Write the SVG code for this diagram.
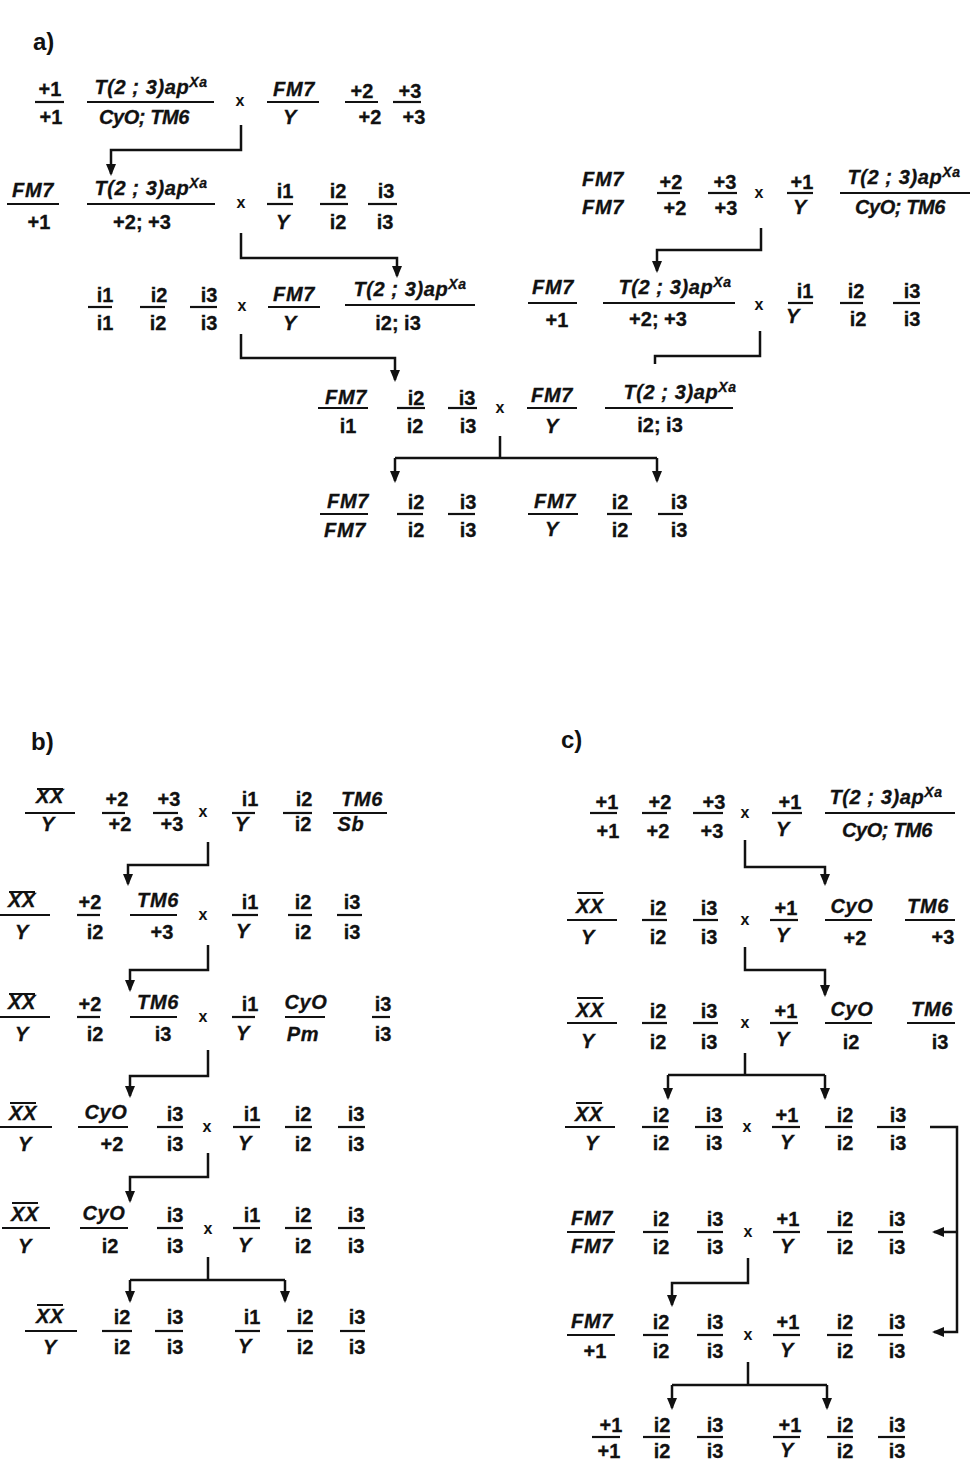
<svg xmlns="http://www.w3.org/2000/svg" width="976" height="1462" viewBox="0 0 976 1462">
<defs>
<style>
.t{font-family:"Liberation Sans",Arial,Helvetica,sans-serif;font-weight:700;font-size:20px;fill:#111;stroke:#111;stroke-width:0.3px;text-anchor:middle}
.i{font-style:italic;letter-spacing:0.6px}
.nar{letter-spacing:-0.4px}
.xs{font-family:"Liberation Sans",Arial,sans-serif;font-weight:700;font-size:16px;fill:#111;text-anchor:middle}
.lb{font-family:"Liberation Sans",Arial,sans-serif;font-weight:700;font-size:24px;fill:#111}
.fl{stroke:#111;stroke-width:2.2}
.ov{stroke:#111;stroke-width:2}
.cn{fill:none;stroke:#111;stroke-width:2.5}
.ar{marker-end:url(#ah)}
.sup{font-size:14px}
</style>
<marker id="ah" viewBox="0 0 12 10" refX="10" refY="5" markerWidth="12" markerHeight="10" markerUnits="userSpaceOnUse" orient="auto">
<path d="M0,0 L12,5 L0,10 z" fill="#111"/>
</marker>
</defs>
<rect width="976" height="1462" fill="#fff"/>

<!-- panel labels -->
<text class="lb" x="33" y="50">a)</text>
<text class="lb" x="31" y="750">b)</text>
<text class="lb" x="561" y="748">c)</text>

<!-- ===== panel a ===== -->
<g id="a-row1" transform="translate(0,102)">
<line class="fl" x1="35" y1="0" x2="64" y2="0"/><text class="t" x="50" y="-6">+1</text><text class="t" x="51" y="22">+1</text>
<line class="fl" x1="87" y1="0" x2="214" y2="0"/><text class="t i" x="151" y="-8">T(2 ; 3)ap<tspan class="sup" dy="-7">Xa</tspan></text><text class="t i nar" x="144" y="22">CyO; TM6</text>
<text class="xs" x="240" y="4">x</text>
<line class="fl" x1="267" y1="0" x2="319" y2="0"/><text class="t i" x="294" y="-6">FM7</text><text class="t i" x="290" y="22">Y</text>
<line class="fl" x1="345" y1="0" x2="378" y2="0"/><text class="t" x="362" y="-4">+2</text><text class="t" x="370" y="22">+2</text>
<line class="fl" x1="393" y1="0" x2="421" y2="0"/><text class="t" x="410" y="-4">+3</text><text class="t" x="414" y="22">+3</text>
</g>

<g id="a-row2-left" transform="translate(0,204)">
<line class="fl" x1="7" y1="0" x2="59" y2="0"/><text class="t i" x="33" y="-7">FM7</text><text class="t" x="39" y="25">+1</text>
<line class="fl" x1="87" y1="0" x2="215" y2="0"/><text class="t i" x="151" y="-9">T(2 ; 3)ap<tspan class="sup" dy="-7">Xa</tspan></text><text class="t" x="142" y="25">+2; +3</text>
<text class="xs" x="241" y="4">x</text>
<line class="fl" x1="267" y1="0" x2="293" y2="0"/><text class="t" x="285" y="-6">i1</text><text class="t i" x="283" y="25">Y</text>
<line class="fl" x1="320" y1="0" x2="348" y2="0"/><text class="t" x="338" y="-6">i2</text><text class="t" x="338" y="25">i2</text>
<line class="fl" x1="368" y1="0" x2="397" y2="0"/><text class="t" x="386" y="-6">i3</text><text class="t" x="385" y="25">i3</text>
</g>

<g id="a-row2-right" transform="translate(0,193)">
<text class="t i" x="603" y="-7">FM7</text><text class="t i" x="603" y="21">FM7</text>
<line class="fl" x1="657" y1="0" x2="680" y2="0"/><text class="t" x="671" y="-4">+2</text><text class="t" x="675" y="22">+2</text>
<line class="fl" x1="708" y1="0" x2="737" y2="0"/><text class="t" x="725" y="-4">+3</text><text class="t" x="726" y="22">+3</text>
<text class="xs" x="759" y="5">x</text>
<line class="fl" x1="787" y1="0" x2="813" y2="0"/><text class="t" x="802" y="-4">+1</text><text class="t i" x="800" y="21">Y</text>
<line class="fl" x1="840" y1="0" x2="970" y2="0"/><text class="t i" x="904" y="-9">T(2 ; 3)ap<tspan class="sup" dy="-7">Xa</tspan></text><text class="t i nar" x="900" y="21">CyO; TM6</text>
</g>

<g id="a-row3-left" transform="translate(0,307)">
<line class="fl" x1="88" y1="0" x2="112" y2="0"/><text class="t" x="105" y="-5">i1</text><text class="t" x="105" y="23">i1</text>
<line class="fl" x1="140" y1="0" x2="165" y2="0"/><text class="t" x="159" y="-5">i2</text><text class="t" x="158" y="23">i2</text>
<line class="fl" x1="190" y1="0" x2="217" y2="0"/><text class="t" x="209" y="-5">i3</text><text class="t" x="209" y="23">i3</text>
<text class="xs" x="242" y="4">x</text>
<line class="fl" x1="268" y1="0" x2="320" y2="0"/><text class="t i" x="294" y="-6">FM7</text><text class="t i" x="290" y="23">Y</text>
<line class="fl" x1="345" y1="-2" x2="475" y2="-2"/><text class="t i" x="410" y="-11">T(2 ; 3)ap<tspan class="sup" dy="-7">Xa</tspan></text><text class="t" x="398" y="23">i2; i3</text>
</g>

<g id="a-row3-right" transform="translate(0,303)">
<line class="fl" x1="528" y1="0" x2="577" y2="0"/><text class="t i" x="553" y="-9">FM7</text><text class="t" x="557" y="24">+1</text>
<line class="fl" x1="603" y1="0" x2="735" y2="0"/><text class="t i" x="675" y="-9">T(2 ; 3)ap<tspan class="sup" dy="-7">Xa</tspan></text><text class="t" x="658" y="23">+2; +3</text>
<text class="xs" x="759" y="7">x</text>
<line class="fl" x1="788" y1="0" x2="813" y2="0"/><text class="t" x="805" y="-5">i1</text><text class="t i" x="793" y="20">Y</text>
<line class="fl" x1="840" y1="0" x2="863" y2="0"/><text class="t" x="856" y="-5">i2</text><text class="t" x="858" y="23">i2</text>
<line class="fl" x1="893" y1="0" x2="920" y2="0"/><text class="t" x="912" y="-5">i3</text><text class="t" x="912" y="23">i3</text>
</g>

<g id="a-row4" transform="translate(0,408)">
<line class="fl" x1="318" y1="0" x2="368" y2="0"/><text class="t i" x="346" y="-4">FM7</text><text class="t" x="348" y="25">i1</text>
<line class="fl" x1="397" y1="0" x2="425" y2="0"/><text class="t" x="416" y="-3">i2</text><text class="t" x="415" y="25">i2</text>
<line class="fl" x1="448" y1="0" x2="477" y2="0"/><text class="t" x="467" y="-3">i3</text><text class="t" x="468" y="25">i3</text>
<text class="xs" x="500" y="5">x</text>
<line class="fl" x1="527" y1="0" x2="577" y2="0"/><text class="t i" x="552" y="-6">FM7</text><text class="t i" x="552" y="25">Y</text>
<line class="fl" x1="605" y1="0" x2="733" y2="0"/><text class="t i" x="680" y="-9">T(2 ; 3)ap<tspan class="sup" dy="-7">Xa</tspan></text><text class="t" x="660" y="24">i2; i3</text>
</g>

<g id="a-row5" transform="translate(0,514)">
<line class="fl" x1="320" y1="0" x2="368" y2="0"/><text class="t i" x="348" y="-6">FM7</text><text class="t i" x="345" y="23">FM7</text>
<line class="fl" x1="397" y1="0" x2="423" y2="0"/><text class="t" x="416" y="-5">i2</text><text class="t" x="416" y="23">i2</text>
<line class="fl" x1="448" y1="0" x2="475" y2="0"/><text class="t" x="468" y="-5">i3</text><text class="t" x="468" y="23">i3</text>
<line class="fl" x1="528" y1="0" x2="578" y2="0"/><text class="t i" x="555" y="-6">FM7</text><text class="t i" x="552" y="22">Y</text>
<line class="fl" x1="607" y1="0" x2="632" y2="0"/><text class="t" x="620" y="-5">i2</text><text class="t" x="620" y="23">i2</text>
<line class="fl" x1="658" y1="0" x2="683" y2="0"/><text class="t" x="679" y="-5">i3</text><text class="t" x="679" y="23">i3</text>
</g>

<!-- ===== panel b ===== -->
<g id="b-row1" transform="translate(0,813)">
<line class="ov" x1="37" y1="-24" x2="63" y2="-24"/><line class="fl" x1="25" y1="0" x2="75" y2="0"/><text class="t i" x="50" y="-10">XX</text><text class="t i" x="48" y="18">Y</text>
<line class="fl" x1="102" y1="0" x2="125" y2="0"/><text class="t" x="117" y="-7">+2</text><text class="t" x="120" y="18">+2</text>
<line class="fl" x1="153" y1="0" x2="178" y2="0"/><text class="t" x="169" y="-7">+3</text><text class="t" x="172" y="18">+3</text>
<text class="xs" x="203" y="4">x</text>
<line class="fl" x1="232" y1="0" x2="255" y2="0"/><text class="t" x="250" y="-7">i1</text><text class="t i" x="242" y="18">Y</text>
<line class="fl" x1="283" y1="0" x2="312" y2="0"/><text class="t" x="304" y="-7">i2</text><text class="t" x="303" y="18">i2</text>
<line class="fl" x1="333" y1="0" x2="387" y2="0"/><text class="t i" x="362" y="-7">TM6</text><text class="t i" x="351" y="18">Sb</text>
</g>

<g id="b-row2" transform="translate(0,915)">
<line class="ov" x1="9" y1="-23" x2="35" y2="-23"/><line class="fl" x1="0" y1="0" x2="50" y2="0"/><text class="t i" x="22" y="-8">XX</text><text class="t i" x="22" y="24">Y</text>
<line class="fl" x1="77" y1="0" x2="100" y2="0"/><text class="t" x="90" y="-6">+2</text><text class="t" x="95" y="24">i2</text>
<line class="fl" x1="130" y1="0" x2="177" y2="0"/><text class="t i" x="158" y="-8">TM6</text><text class="t" x="162" y="24">+3</text>
<text class="xs" x="203" y="5">x</text>
<line class="fl" x1="232" y1="0" x2="258" y2="0"/><text class="t" x="250" y="-6">i1</text><text class="t i" x="243" y="23">Y</text>
<line class="fl" x1="288" y1="0" x2="312" y2="0"/><text class="t" x="303" y="-6">i2</text><text class="t" x="303" y="24">i2</text>
<line class="fl" x1="337" y1="0" x2="362" y2="0"/><text class="t" x="352" y="-6">i3</text><text class="t" x="352" y="24">i3</text>
</g>

<g id="b-row3" transform="translate(0,1017)">
<line class="ov" x1="9" y1="-23" x2="35" y2="-23"/><line class="fl" x1="0" y1="0" x2="50" y2="0"/><text class="t i" x="22" y="-8">XX</text><text class="t i" x="22" y="24">Y</text>
<line class="fl" x1="77" y1="0" x2="100" y2="0"/><text class="t" x="90" y="-6">+2</text><text class="t" x="95" y="24">i2</text>
<line class="fl" x1="130" y1="0" x2="177" y2="0"/><text class="t i" x="158" y="-8">TM6</text><text class="t" x="163" y="24">i3</text>
<text class="xs" x="203" y="5">x</text>
<line class="fl" x1="232" y1="0" x2="255" y2="0"/><text class="t" x="250" y="-6">i1</text><text class="t i" x="243" y="23">Y</text>
<line class="fl" x1="285" y1="0" x2="325" y2="0"/><text class="t i" x="306" y="-8">CyO</text><text class="t i" x="303" y="24">Pm</text>
<line class="fl" x1="372" y1="0" x2="390" y2="0"/><text class="t" x="383" y="-6">i3</text><text class="t" x="383" y="24">i3</text>
</g>

<g id="b-row4" transform="translate(0,1127)">
<line class="ov" x1="10" y1="-24" x2="36" y2="-24"/><line class="fl" x1="0" y1="0" x2="52" y2="0"/><text class="t i" x="23" y="-7">XX</text><text class="t i" x="25" y="24">Y</text>
<line class="fl" x1="78" y1="0" x2="128" y2="0"/><text class="t i" x="106" y="-8">CyO</text><text class="t" x="112" y="24">+2</text>
<line class="fl" x1="157" y1="0" x2="183" y2="0"/><text class="t" x="175" y="-6">i3</text><text class="t" x="175" y="24">i3</text>
<text class="xs" x="207" y="5">x</text>
<line class="fl" x1="233" y1="0" x2="260" y2="0"/><text class="t" x="252" y="-6">i1</text><text class="t i" x="245" y="23">Y</text>
<line class="fl" x1="285" y1="0" x2="312" y2="0"/><text class="t" x="303" y="-6">i2</text><text class="t" x="303" y="24">i2</text>
<line class="fl" x1="338" y1="0" x2="365" y2="0"/><text class="t" x="356" y="-6">i3</text><text class="t" x="356" y="24">i3</text>
</g>

<g id="b-row5" transform="translate(0,1228)">
<line class="ov" x1="12" y1="-25" x2="38" y2="-25"/><line class="fl" x1="2" y1="0" x2="50" y2="0"/><text class="t i" x="25" y="-7">XX</text><text class="t i" x="25" y="25">Y</text>
<line class="fl" x1="80" y1="0" x2="128" y2="0"/><text class="t i" x="104" y="-8">CyO</text><text class="t" x="110" y="25">i2</text>
<line class="fl" x1="157" y1="0" x2="183" y2="0"/><text class="t" x="175" y="-6">i3</text><text class="t" x="175" y="25">i3</text>
<text class="xs" x="208" y="6">x</text>
<line class="fl" x1="233" y1="0" x2="260" y2="0"/><text class="t" x="252" y="-6">i1</text><text class="t i" x="245" y="24">Y</text>
<line class="fl" x1="285" y1="0" x2="312" y2="0"/><text class="t" x="303" y="-6">i2</text><text class="t" x="303" y="25">i2</text>
<line class="fl" x1="338" y1="0" x2="365" y2="0"/><text class="t" x="356" y="-6">i3</text><text class="t" x="356" y="25">i3</text>
</g>

<g id="b-row6" transform="translate(0,1331)">
<line class="ov" x1="37" y1="-26" x2="63" y2="-26"/><line class="fl" x1="25" y1="0" x2="77" y2="0"/><text class="t i" x="50" y="-8">XX</text><text class="t i" x="50" y="23">Y</text>
<line class="fl" x1="102" y1="0" x2="132" y2="0"/><text class="t" x="122" y="-7">i2</text><text class="t" x="122" y="23">i2</text>
<line class="fl" x1="155" y1="0" x2="183" y2="0"/><text class="t" x="175" y="-7">i3</text><text class="t" x="175" y="23">i3</text>
<line class="fl" x1="235" y1="0" x2="260" y2="0"/><text class="t" x="252" y="-7">i1</text><text class="t i" x="245" y="22">Y</text>
<line class="fl" x1="287" y1="0" x2="313" y2="0"/><text class="t" x="305" y="-7">i2</text><text class="t" x="305" y="23">i2</text>
<line class="fl" x1="340" y1="0" x2="365" y2="0"/><text class="t" x="357" y="-7">i3</text><text class="t" x="357" y="23">i3</text>
</g>

<!-- ===== panel c ===== -->
<g id="c-row1" transform="translate(0,813)">
<line class="fl" x1="590" y1="0" x2="617" y2="0"/><text class="t" x="607" y="-4">+1</text><text class="t" x="608" y="25">+1</text>
<line class="fl" x1="642" y1="0" x2="667" y2="0"/><text class="t" x="660" y="-4">+2</text><text class="t" x="658" y="25">+2</text>
<line class="fl" x1="693" y1="0" x2="723" y2="0"/><text class="t" x="714" y="-4">+3</text><text class="t" x="712" y="25">+3</text>
<text class="xs" x="745" y="5">x</text>
<line class="fl" x1="772" y1="0" x2="802" y2="0"/><text class="t" x="790" y="-4">+1</text><text class="t i" x="783" y="23">Y</text>
<line class="fl" x1="825" y1="0" x2="955" y2="0"/><text class="t i" x="886" y="-9">T(2 ; 3)ap<tspan class="sup" dy="-7">Xa</tspan></text><text class="t i nar" x="887" y="24">CyO; TM6</text>
</g>

<g id="c-row2" transform="translate(0,920)">
<line class="ov" x1="577" y1="-27" x2="603" y2="-27"/><line class="fl" x1="567" y1="0" x2="617" y2="0"/><text class="t i" x="590" y="-7">XX</text><text class="t i" x="588" y="24">Y</text>
<line class="fl" x1="642" y1="0" x2="667" y2="0"/><text class="t" x="658" y="-5">i2</text><text class="t" x="658" y="24">i2</text>
<line class="fl" x1="693" y1="0" x2="718" y2="0"/><text class="t" x="709" y="-5">i3</text><text class="t" x="709" y="24">i3</text>
<text class="xs" x="745" y="5">x</text>
<line class="fl" x1="770" y1="0" x2="798" y2="0"/><text class="t" x="786" y="-5">+1</text><text class="t i" x="783" y="22">Y</text>
<line class="fl" x1="825" y1="0" x2="872" y2="0"/><text class="t i" x="852" y="-7">CyO</text><text class="t" x="855" y="25">+2</text>
<line class="fl" x1="905" y1="0" x2="955" y2="0"/><text class="t i" x="928" y="-7">TM6</text><text class="t" x="943" y="24">+3</text>
</g>

<g id="c-row3" transform="translate(0,1023)">
<line class="ov" x1="577" y1="-25" x2="603" y2="-25"/><line class="fl" x1="567" y1="0" x2="617" y2="0"/><text class="t i" x="590" y="-6">XX</text><text class="t i" x="588" y="25">Y</text>
<line class="fl" x1="642" y1="0" x2="667" y2="0"/><text class="t" x="658" y="-5">i2</text><text class="t" x="658" y="26">i2</text>
<line class="fl" x1="693" y1="0" x2="718" y2="0"/><text class="t" x="709" y="-5">i3</text><text class="t" x="709" y="26">i3</text>
<text class="xs" x="745" y="5">x</text>
<line class="fl" x1="770" y1="0" x2="798" y2="0"/><text class="t" x="786" y="-5">+1</text><text class="t i" x="783" y="23">Y</text>
<line class="fl" x1="825" y1="0" x2="872" y2="0"/><text class="t i" x="852" y="-7">CyO</text><text class="t" x="851" y="26">i2</text>
<line class="fl" x1="907" y1="0" x2="955" y2="0"/><text class="t i" x="932" y="-7">TM6</text><text class="t" x="940" y="26">i3</text>
</g>

<g id="c-row4" transform="translate(0,1127)">
<line class="ov" x1="576" y1="-24" x2="602" y2="-24"/><line class="fl" x1="565" y1="0" x2="615" y2="0"/><text class="t i" x="589" y="-6">XX</text><text class="t i" x="592" y="23">Y</text>
<line class="fl" x1="642" y1="0" x2="668" y2="0"/><text class="t" x="661" y="-5">i2</text><text class="t" x="661" y="23">i2</text>
<line class="fl" x1="695" y1="0" x2="723" y2="0"/><text class="t" x="714" y="-5">i3</text><text class="t" x="714" y="23">i3</text>
<text class="xs" x="747" y="5">x</text>
<line class="fl" x1="772" y1="0" x2="800" y2="0"/><text class="t" x="787" y="-5">+1</text><text class="t i" x="787" y="22">Y</text>
<line class="fl" x1="825" y1="0" x2="852" y2="0"/><text class="t" x="845" y="-5">i2</text><text class="t" x="845" y="23">i2</text>
<line class="fl" x1="877" y1="0" x2="905" y2="0"/><text class="t" x="898" y="-5">i3</text><text class="t" x="898" y="23">i3</text>
</g>

<g id="c-row5" transform="translate(0,1232)">
<line class="fl" x1="567" y1="0" x2="615" y2="0"/><text class="t i" x="592" y="-7">FM7</text><text class="t i" x="592" y="21">FM7</text>
<line class="fl" x1="643" y1="0" x2="668" y2="0"/><text class="t" x="661" y="-6">i2</text><text class="t" x="661" y="22">i2</text>
<line class="fl" x1="697" y1="0" x2="723" y2="0"/><text class="t" x="715" y="-6">i3</text><text class="t" x="715" y="22">i3</text>
<text class="xs" x="748" y="5">x</text>
<line class="fl" x1="773" y1="0" x2="800" y2="0"/><text class="t" x="788" y="-6">+1</text><text class="t i" x="787" y="21">Y</text>
<line class="fl" x1="827" y1="0" x2="852" y2="0"/><text class="t" x="845" y="-6">i2</text><text class="t" x="845" y="22">i2</text>
<line class="fl" x1="878" y1="0" x2="903" y2="0"/><text class="t" x="897" y="-6">i3</text><text class="t" x="897" y="22">i3</text>
</g>

<g id="c-row6" transform="translate(0,1335)">
<line class="fl" x1="567" y1="0" x2="615" y2="0"/><text class="t i" x="592" y="-7">FM7</text><text class="t" x="595" y="23">+1</text>
<line class="fl" x1="643" y1="0" x2="668" y2="0"/><text class="t" x="661" y="-6">i2</text><text class="t" x="661" y="23">i2</text>
<line class="fl" x1="697" y1="0" x2="723" y2="0"/><text class="t" x="715" y="-6">i3</text><text class="t" x="715" y="23">i3</text>
<text class="xs" x="748" y="5">x</text>
<line class="fl" x1="773" y1="0" x2="800" y2="0"/><text class="t" x="788" y="-6">+1</text><text class="t i" x="787" y="22">Y</text>
<line class="fl" x1="827" y1="0" x2="852" y2="0"/><text class="t" x="845" y="-6">i2</text><text class="t" x="845" y="23">i2</text>
<line class="fl" x1="878" y1="0" x2="903" y2="0"/><text class="t" x="897" y="-6">i3</text><text class="t" x="897" y="23">i3</text>
</g>

<g id="c-row7" transform="translate(0,1437)">
<line class="fl" x1="592" y1="0" x2="620" y2="0"/><text class="t" x="611" y="-5">+1</text><text class="t" x="609" y="21">+1</text>
<line class="fl" x1="643" y1="0" x2="670" y2="0"/><text class="t" x="662" y="-5">i2</text><text class="t" x="662" y="21">i2</text>
<line class="fl" x1="697" y1="0" x2="723" y2="0"/><text class="t" x="715" y="-5">i3</text><text class="t" x="715" y="21">i3</text>
<line class="fl" x1="773" y1="0" x2="800" y2="0"/><text class="t" x="790" y="-5">+1</text><text class="t i" x="787" y="20">Y</text>
<line class="fl" x1="827" y1="0" x2="853" y2="0"/><text class="t" x="845" y="-5">i2</text><text class="t" x="845" y="21">i2</text>
<line class="fl" x1="878" y1="0" x2="905" y2="0"/><text class="t" x="897" y="-5">i3</text><text class="t" x="897" y="21">i3</text>
</g>

<!-- crossing lines -->
<g id="connectors">
<!-- panel a -->
<path class="cn ar" d="M241,125 V150 H111 V174"/>
<path class="cn ar" d="M761,228 V250 H657 V271"/>
<path class="cn ar" d="M241,233 V258 H397 V276"/>
<path class="cn" d="M760,331 V356 H655 V364"/>
<path class="cn ar" d="M241,334 V358 H395 V380"/>
<path class="cn" d="M500,436 V458 M395,458 H657"/>
<path class="cn ar" d="M395,458 V481"/>
<path class="cn ar" d="M657,458 V481"/>
<!-- panel b -->
<path class="cn ar" d="M208,842 V865 H128 V884"/>
<path class="cn ar" d="M208,945 V970 H130 V990"/>
<path class="cn ar" d="M208,1050 V1076 H130 V1096"/>
<path class="cn ar" d="M208,1153 V1177 H130 V1201"/>
<path class="cn" d="M208,1257 V1280 M130,1280 H285"/>
<path class="cn ar" d="M130,1280 V1301"/>
<path class="cn ar" d="M285,1280 V1301"/>
<!-- panel c -->
<path class="cn ar" d="M745,840 V867 H825 V884"/>
<path class="cn ar" d="M745,947 V970 H825 V995"/>
<path class="cn" d="M745,1053 V1075 M668,1075 H825"/>
<path class="cn ar" d="M668,1075 V1098"/>
<path class="cn ar" d="M825,1075 V1098"/>
<path class="cn ar" d="M930,1127 H957 V1332 H934"/>
<path class="cn ar" d="M957,1232 H934"/>
<path class="cn ar" d="M748,1258 V1283 H672 V1305"/>
<path class="cn" d="M748,1362 V1385 M672,1385 H827"/>
<path class="cn ar" d="M672,1385 V1408"/>
<path class="cn ar" d="M827,1385 V1408"/>
</g>
</svg>
